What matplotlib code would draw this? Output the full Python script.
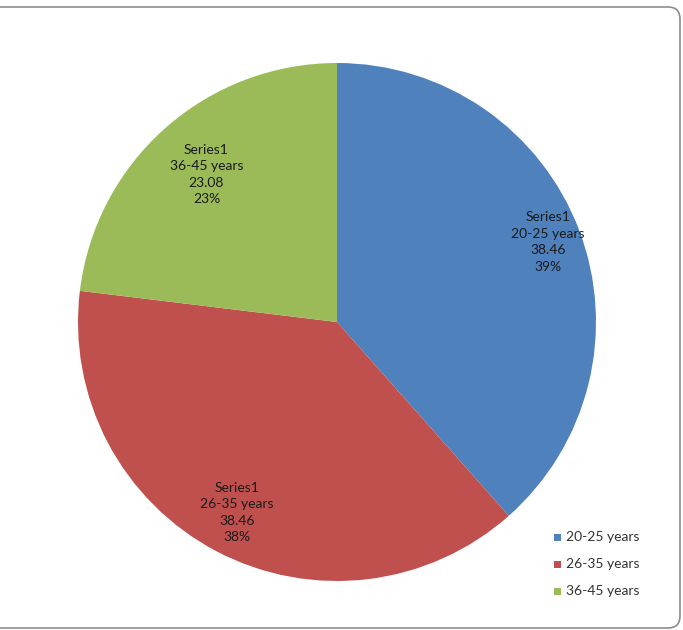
import numpy as np
import matplotlib.pyplot as plt
from matplotlib.patches import FancyBboxPatch, Rectangle

categories = ["20-25 years", "26-35 years", "36-45 years"]
values = [38.46, 38.46, 23.08]
percent_labels = ["39%", "38%", "23%"]
series_name = "Series1"
colors = ["#4F81BD", "#C0504D", "#9BBB59"]

plt.rcParams["font.family"] = ["Lato", "DejaVu Sans"]

W, H = 683, 630
fig = plt.figure(figsize=(W / 100, H / 100), dpi=100)
ax = fig.add_axes([0, 0, 1, 1])

cx, cy, r = 337, H - 322, 259
wedges, _ = ax.pie(values, colors=colors, startangle=90, counterclock=False,
                   center=(cx, cy), radius=r,
                   wedgeprops=dict(linewidth=0))

# pie() resets limits, so set the pixel-like frame afterwards
ax.set_xlim(0, W)
ax.set_ylim(0, H)
ax.set_aspect("equal")
ax.axis("off")

# outer chart border (left side runs off the canvas in the original)
border = FancyBboxPatch((-15, 2), 695, H - 9, boxstyle="round,pad=0,rounding_size=12",
                        fill=False, edgecolor="#8c8c8c", linewidth=1.2)
ax.add_patch(border)

# data labels placed inside each slice
dists = [0.87, 0.83, 0.76]
for w, cat, v, pct, d in zip(wedges, categories, values, percent_labels, dists):
    mid = np.deg2rad((w.theta1 + w.theta2) / 2)
    x = cx + r * d * np.cos(mid)
    y = cy + r * d * np.sin(mid)
    ax.text(x, y, f"{series_name}\n{cat}\n{v:.2f}\n{pct}", ha="center", va="center",
            fontsize=10, color="#1a1a1a", linespacing=1.45)

# legend
leg_y = [H - 537, H - 564, H - 591]
for c, cat, yy in zip(colors, categories, leg_y):
    ax.add_patch(Rectangle((554, yy - 3.5), 7, 7, facecolor=c, edgecolor="none"))
    ax.text(566, yy, cat, ha="left", va="center", fontsize=10, color="#333333")

fig.savefig("out.png", dpi=100)
